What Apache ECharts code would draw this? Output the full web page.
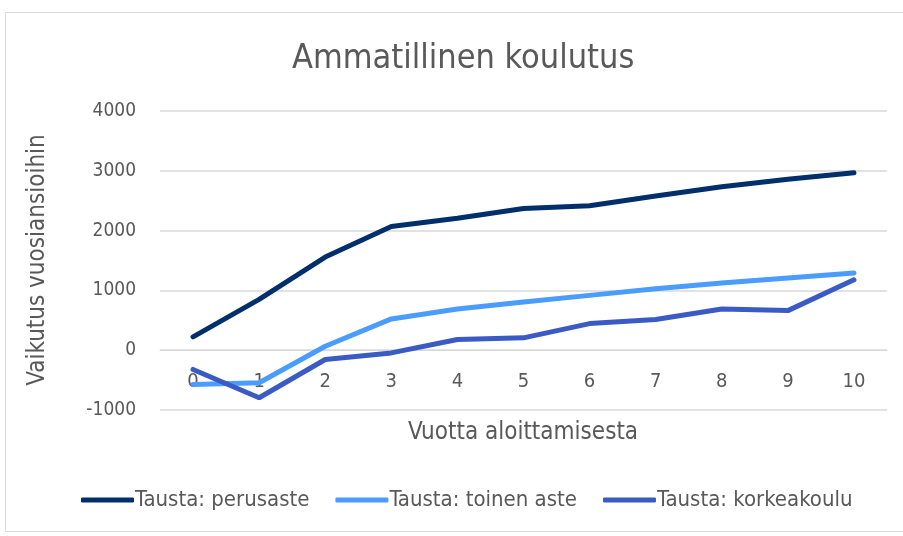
<!DOCTYPE html>
<html><head><meta charset="utf-8">
<script src="https://cdn.jsdelivr.net/npm/echarts@6/dist/echarts.min.js"></script>
<style>html,body{margin:0;padding:0;background:#fff}#c{width:903px;height:536px}</style>
</head><body><div id="c"></div>
<script>
const categories = ['0','1','2','3','4','5','6','7','8','9','10'];
const perusaste = [223, 850, 1557, 2067, 2207, 2370, 2417, 2578, 2733, 2857, 2967];
const toinenAste = [-572, -544, 67, 523, 690, 805, 917, 1028, 1123, 1207, 1290];
const korkeakoulu = [-322, -795, -155, -45, 178, 207, 445, 512, 690, 662, 1178];
const seriesNames = ['Tausta: perusaste', 'Tausta: toinen aste', 'Tausta: korkeakoulu'];
const colors = ['#002f6c', '#4b9cff', '#3a5bc4'];
const font = '"DejaVu Sans Condensed", "Liberation Sans Narrow", "Open Sans", sans-serif';
const chart = echarts.init(document.getElementById('c'));
const mk = (name, data, color) => ({
  name, type: 'line', data, symbol: 'none', smooth: false,
  lineStyle: { width: 5, color, cap: 'round' }, itemStyle: { color }
});
chart.setOption({
  animation: false,
  textStyle: { fontFamily: font },
  title: { text: 'Ammatillinen koulutus', left: 287, top: 37,
    textStyle: { fontSize: 34, fontWeight: 'normal', color: '#595959', fontFamily: font } },
  grid: { left: 160, right: 16, top: 111, bottom: 126 },
  legend: { bottom: 20, left: 76, itemWidth: 53, itemHeight: 5, itemGap: 26,
    icon: 'roundRect',
    textStyle: { fontSize: 22, color: '#595959', fontFamily: font, padding: [0,0,0,-4] },
    data: seriesNames },
  xAxis: { type: 'category', data: categories, boundaryGap: true,
    position: 'bottom', offset: -59.6,
    axisLine: { onZero: false, lineStyle: { color: '#d9d9d9', width: 1 } },
    axisTick: { show: false },
    axisLabel: { fontSize: 20, color: '#595959', margin: 21, fontFamily: font } },
  yAxis: { type: 'value', min: -1000, max: 4000, interval: 1000,
    splitLine: { lineStyle: { color: '#d9d9d9', width: 1.5 } },
    axisLabel: { fontSize: 19, color: '#595959', margin: 24, fontFamily: font,
      formatter: v => String(v) } },
  graphic: [
    { type: 'rect', shape: { x: 5.5, y: 12.5, width: 910, height: 519 },
      style: { fill: 'none', stroke: '#d9d9d9', lineWidth: 1 }, z: -1 },
    { type: 'text', x: 523, y: 433,
      style: { text: 'Vuotta aloittamisesta', fontSize: 24, fill: '#595959', fontFamily: font,
        align: 'center', verticalAlign: 'middle' } },
    { type: 'text', x: 38, y: 260, rotation: Math.PI / 2,
      style: { text: 'Vaikutus vuosiansioihin', fontSize: 24, fill: '#595959', fontFamily: font,
        align: 'center', verticalAlign: 'middle' } }
  ],
  series: [
    mk(seriesNames[0], perusaste, colors[0]),
    mk(seriesNames[1], toinenAste, colors[1]),
    mk(seriesNames[2], korkeakoulu, colors[2])
  ]
});
</script></body></html>
